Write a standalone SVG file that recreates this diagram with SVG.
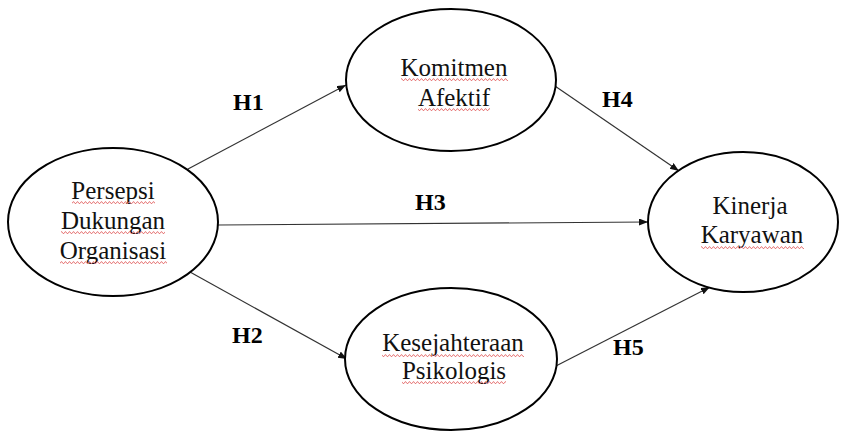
<svg xmlns="http://www.w3.org/2000/svg" width="841" height="432" viewBox="0 0 841 432">
<style>
.node ellipse{fill:#fff;stroke:#000;stroke-width:2}
.node text{font-family:"Liberation Serif","Times New Roman",serif;font-size:25px;fill:#111;text-anchor:middle}
.lbl{font-family:"Liberation Serif","Times New Roman",serif;font-size:24px;font-weight:bold;fill:#000}
.conn line{stroke:#333;stroke-width:1.2;marker-end:url(#ah)}
.sq{fill:url(#wave)}
</style>
<defs>
<marker id="ah" markerUnits="userSpaceOnUse" markerWidth="10" markerHeight="8" refX="9" refY="3.5" orient="auto">
<path d="M0,0 L9,3.5 L0,7 z" fill="#111"/>
</marker>
<pattern id="wave" patternUnits="userSpaceOnUse" width="4" height="3">
<path d="M0,2.5 L1,0.8 L2,0.8 L3,2.5 L4,2.5" fill="none" stroke="#e57373" stroke-width="0.9"/>
</pattern>
</defs>
<rect width="841" height="432" fill="#fff"/>
<g id="connectors" class="conn">
<line x1="188" y1="169" x2="346" y2="85"/>
<line x1="190" y1="272" x2="347" y2="359"/>
<line x1="218" y1="225" x2="648" y2="222"/>
<line x1="552" y1="84" x2="679" y2="171"/>
<line x1="552" y1="368" x2="710" y2="287"/>
</g>
<g id="labels">
<text class="lbl" x="233" y="110">H1</text>
<text class="lbl" x="232" y="343">H2</text>
<text class="lbl" x="415" y="210">H3</text>
<text class="lbl" x="602" y="107">H4</text>
<text class="lbl" x="613" y="355">H5</text>
</g>
<g id="node-pdo" class="node">
<ellipse cx="113" cy="222" rx="105" ry="74"/>
<text x="113" y="199">Persepsi</text>
<text x="113" y="229">Dukungan</text>
<text x="113" y="259">Organisasi</text>
<rect class="sq" x="72" y="201" width="83" height="3"/>
<rect class="sq" x="61" y="231" width="104" height="3"/>
<rect class="sq" x="60" y="261" width="107" height="3"/>
</g>
<g id="node-ka" class="node">
<ellipse cx="451" cy="80" rx="105" ry="71"/>
<text x="454" y="76">Komitmen</text>
<text x="454" y="106">Afektif</text>
<rect class="sq" x="401" y="78" width="107" height="3"/>
<rect class="sq" x="418" y="108" width="72" height="3"/>
</g>
<g id="node-kp" class="node">
<ellipse cx="451" cy="359" rx="106" ry="71"/>
<text x="453" y="351">Kesejahteraan</text>
<text x="454" y="379">Psikologis</text>
<rect class="sq" x="382" y="354" width="142" height="3"/>
<rect class="sq" x="402" y="381" width="104" height="3"/>
</g>
<g id="node-kk" class="node">
<ellipse cx="743" cy="222" rx="95" ry="70"/>
<text x="750" y="214">Kinerja</text>
<text x="752" y="243">Karyawan</text>
<rect class="sq" x="701" y="246" width="103" height="3"/>
</g>
</svg>
